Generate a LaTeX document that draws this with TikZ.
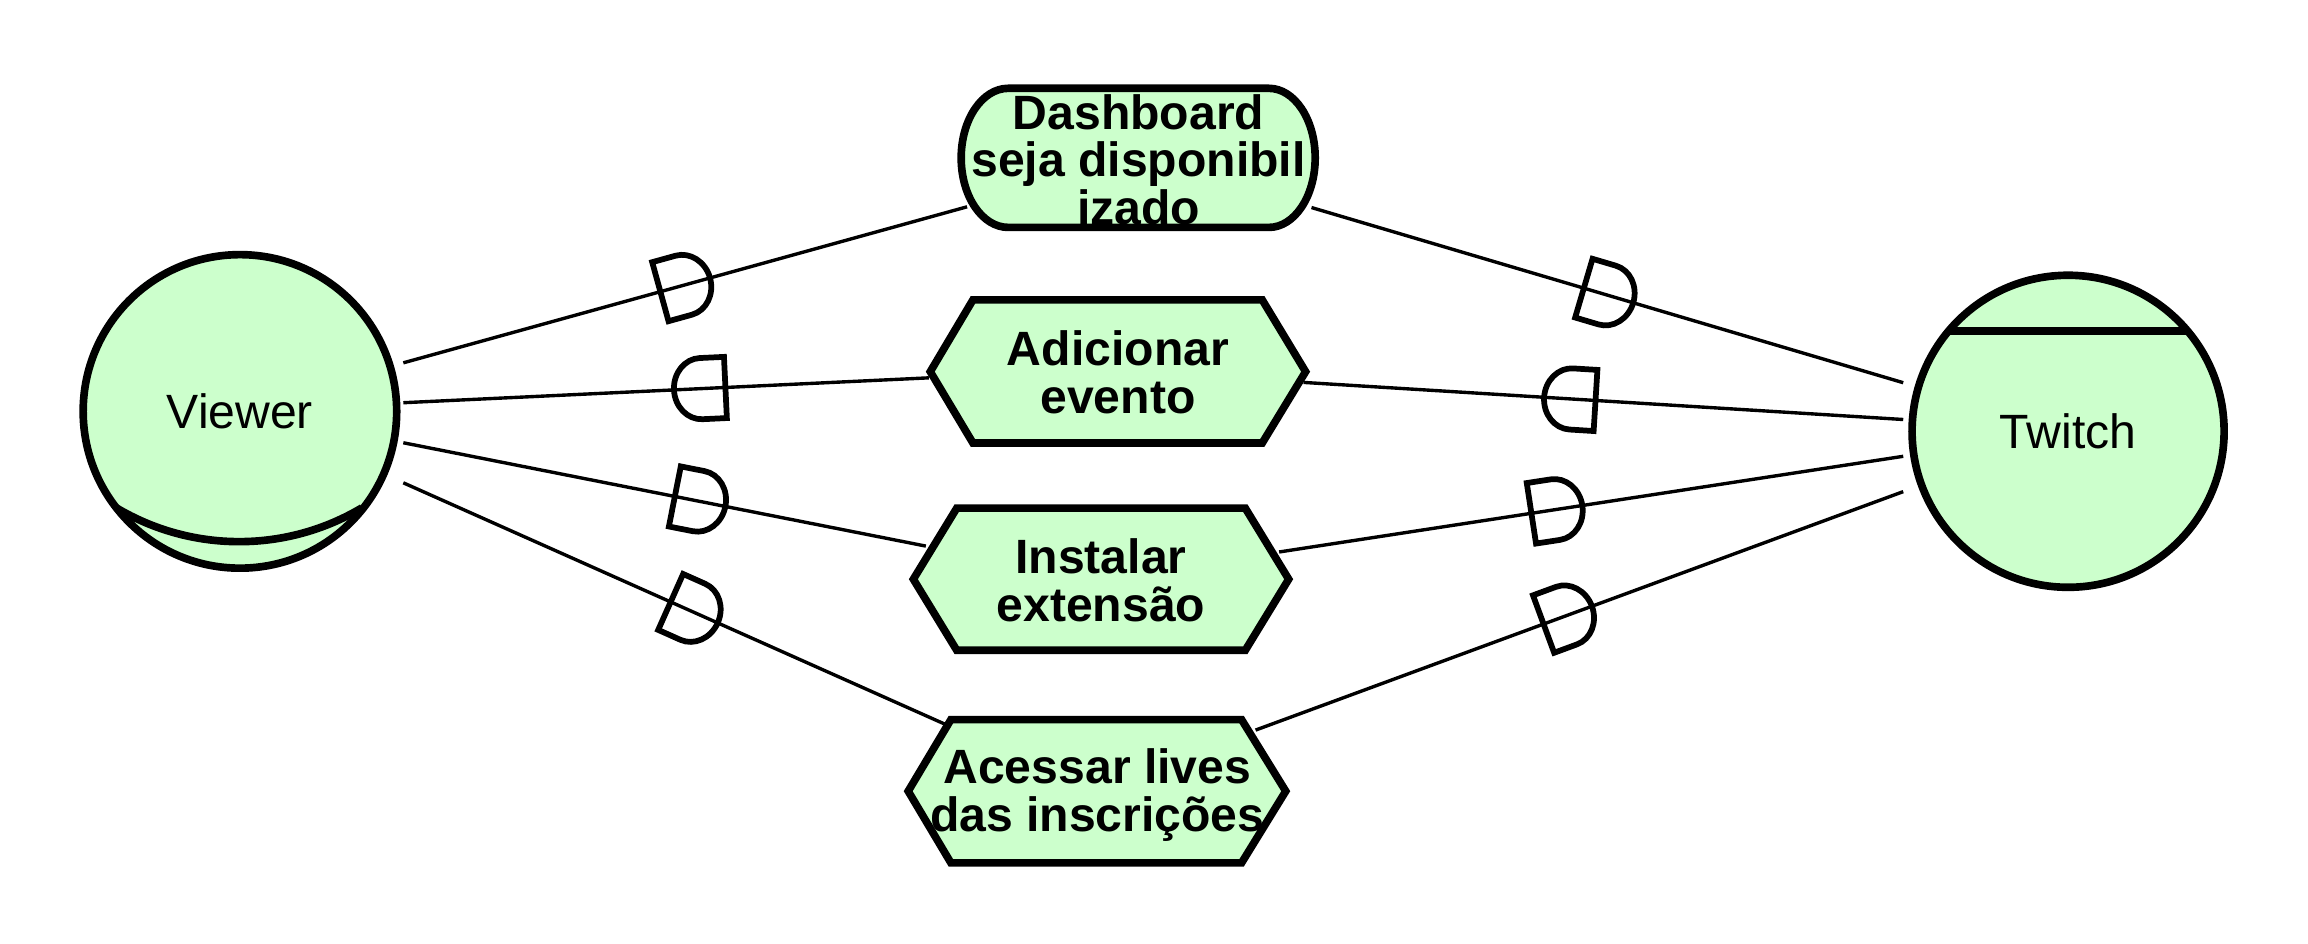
\documentclass[tikz,border=0pt]{standalone}
\usepackage{fontspec}
\setmainfont{Liberation Sans}
\usetikzlibrary{calc}
\definecolor{lgreen}{HTML}{CCFFCC}
\begin{document}
\begin{tikzpicture}[x=1pt,y=-1pt,
  shapeline/.style={draw=black, line width=5.2pt, fill=lgreen, line join=miter},
  innerline/.style={draw=black, line width=5.2pt},
  conn/.style={draw=black, line width=2.3pt},
  markline/.style={draw=black, line width=3.9pt, line join=miter},
  boldlabel/.style={font=\bfseries\fontsize{32.7}{32.5}\selectfont, align=center, inner sep=0pt},
  plainfont/.style={font=\fontsize{32.7}{32.5}\selectfont},
  entity/.style={shapeline, circle, inner sep=0pt, plainfont},
  dmark/.pic={\draw[markline] (-17.5,-20.8) -- (-17.5,20.8) -- (-1,20.8) arc[start angle=90,end angle=-90,x radius=18.5,y radius=20.8] -- cycle;},
  dmarkrev/.pic={\draw[markline] (17.5,-20.8) -- (17.5,20.8) -- (1,20.8) arc[start angle=90,end angle=270,x radius=18.5,y radius=20.8] -- cycle;},
]
\fill[white] (0,0) rectangle (1568,641.3);
\useasboundingbox (0,0) rectangle (1568,641.3);

% connector end points
\coordinate (v1) at (274,246.5);
\coordinate (v2) at (274,273.6);
\coordinate (v3) at (274,300.8);
\coordinate (v4) at (274,328);
\coordinate (d1) at (657,140.5);
\coordinate (d2) at (891,141);
\coordinate (a1) at (631,256.7);
\coordinate (a2) at (885.6,259.8);
\coordinate (i1) at (629,371);
\coordinate (i2) at (869,375);
\coordinate (c1) at (642,492);
\coordinate (c2) at (853,496);
\coordinate (t1) at (1293,260);
\coordinate (t2) at (1293,285);
\coordinate (t3) at (1293,310);
\coordinate (t4) at (1293,334);

% connectors
\draw[conn] (v1) -- (d1) pic[pos=0.50,sloped]{dmark};
\draw[conn] (v2) -- (a1) pic[pos=0.564,sloped]{dmarkrev};
\draw[conn] (v3) -- (i1) pic[pos=0.568,sloped]{dmark};
\draw[conn] (v4) -- (c1) pic[pos=0.537,sloped]{dmark};
\draw[conn] (d2) -- (t1) pic[pos=0.502,sloped]{dmark};
\draw[conn] (a2) -- (t2) pic[pos=0.444,sloped]{dmarkrev};
\draw[conn] (i2) -- (t3) pic[pos=0.445,sloped]{dmark};
\draw[conn] (c2) -- (t4) pic[pos=0.482,sloped]{dmark};

% Viewer
\node[entity, minimum size=213pt] (viewer) at (163,279.5) {Viewer};
\draw[innerline] (79,345) arc[start angle=120.8, end angle=59.2, radius=163];

% Twitch
\node[entity, minimum size=212pt] (twitch) at (1405,293) {Twitch};
\draw[innerline] (1324,225) -- (1486,225);

% Dashboard
\draw[shapeline] (685,60) -- (862,60)
  arc[start angle=-90, end angle=90, x radius=31.5, y radius=47.25]
  -- (685,154.5)
  arc[start angle=90, end angle=270, x radius=32, y radius=47.25] -- cycle;

% hexagons
\draw[shapeline] (632,252.5) -- (661,203.7) -- (857.5,203.7) -- (887,252.5) -- (857.5,301) -- (661,301) -- cycle;
\draw[shapeline] (620.5,393.5) -- (650,345.2) -- (846,345.2) -- (875.5,393.5) -- (846,441.8) -- (650,441.8) -- cycle;
\draw[shapeline] (617,537.5) -- (646,488.9) -- (843.5,488.9) -- (873.5,537.5) -- (843.5,586.2) -- (646,586.2) -- cycle;

% labels
\node[boldlabel] (dash) at (773.5,108.5) {Dashboard\\seja disponibil\\izado};
\node[boldlabel] (adic) at (759.5,253) {Adicionar\\evento};
\node[boldlabel] (inst) at (748,394) {Instalar\\extensão};
\node[boldlabel] (aces) at (745.5,540) {Acessar lives\\das inscrições};
\end{tikzpicture}
\end{document}
